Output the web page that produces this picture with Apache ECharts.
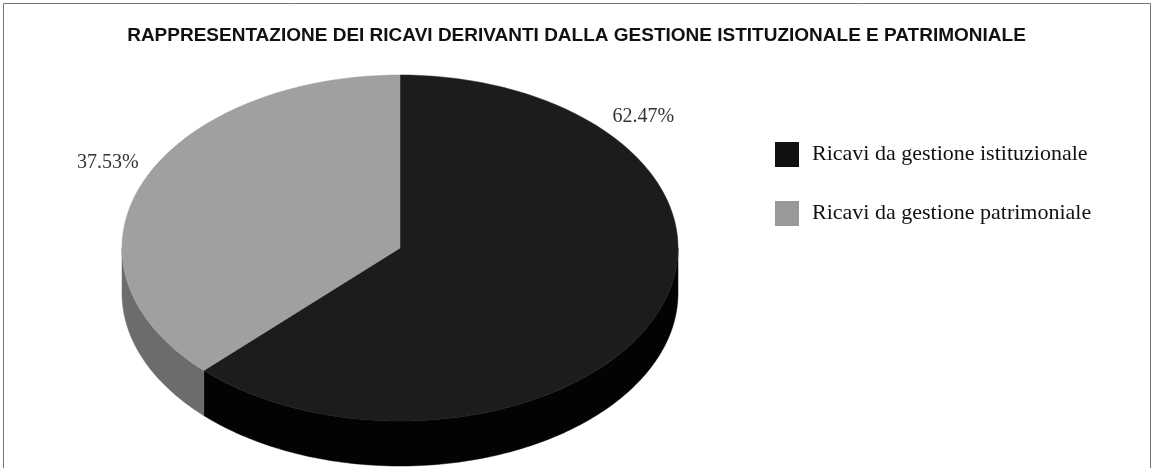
<!DOCTYPE html>
<html>
<head>
<meta charset="utf-8">
<script src="https://cdn.jsdelivr.net/npm/echarts@6/dist/echarts.min.js"></script>
<style>
html, body { margin: 0; padding: 0; background: #fff; }
#chart { width: 1153px; height: 468px; }
</style>
</head>
<body>
<div id="chart"></div>
<script>
const categories = ['Ricavi da gestione istituzionale', 'Ricavi da gestione patrimoniale']
const shares = [62.47, 37.53]
const percentLabels = ['62.47%', '37.53%']

// look of the tilted pie
const topColors = ['#1c1c1c', '#a0a0a0']
const sideColors = ['#030303', '#6c6c6c']
const labelAngles = [49, 295] // degrees, clockwise from 12 o'clock
const cx = 400, cy = 248, rx = 278, ry = 173, depth = 45

const total = shares.reduce((a, b) => a + b, 0)

function pt (deg, dy) {
  const t = deg * Math.PI / 180
  return [cx + rx * Math.sin(t), cy - ry * Math.cos(t) + dy]
}

function arc (from, to, dy) {
  const pts = []
  const steps = Math.max(2, Math.ceil(Math.abs(to - from)))
  for (let k = 0; k <= steps; k++) {
    pts.push(pt(from + (to - from) * k / steps, dy))
  }
  return pts
}

function renderSlice (params, api) {
  const i = params.seriesIndex
  let before = 0
  for (let j = 0; j < i; j++) before += shares[j]
  const start = before / total * 360
  const end = start + api.value(0) / total * 360
  const children = []

  // visible rim: only the front half of the disc (90..270 deg)
  const a = Math.max(start, 90)
  const b = Math.min(end, 270)
  if (b > a) {
    const rim = arc(a, b, 0).concat(arc(b, a, depth))
    children.push({
      type: 'polygon',
      shape: { points: rim },
      style: { fill: sideColors[i], stroke: sideColors[i], lineWidth: 0.5 }
    })
  }

  children.push({
    type: 'polygon',
    shape: { points: [[cx, cy]].concat(arc(start, end, 0)) },
    style: { fill: topColors[i], stroke: topColors[i], lineWidth: 0.5 }
  })

  const t = labelAngles[i] * Math.PI / 180
  children.push({
    type: 'text',
    x: cx + rx * 1.16 * Math.sin(t),
    y: cy - ry * 1.16 * Math.cos(t),
    style: {
      text: percentLabels[i],
      fill: '#333',
      font: '20px "Liberation Serif"',
      align: 'center',
      verticalAlign: 'middle'
    }
  })
  return { type: 'group', children }
}

const chart = echarts.init(document.getElementById('chart'))
chart.setOption({
  animation: false,
  title: {
    text: 'RAPPRESENTAZIONE DEI RICAVI DERIVANTI DALLA GESTIONE ISTITUZIONALE E PATRIMONIALE',
    left: 'center',
    top: 21,
    textStyle: { fontFamily: 'Liberation Sans', fontSize: 19, fontWeight: 'bold', color: '#111' }
  },
  legend: {
    data: categories,
    orient: 'vertical',
    left: 770,
    top: 137,
    icon: 'rect',
    itemWidth: 24,
    itemHeight: 25,
    itemGap: 34,
    selectedMode: false,
    textStyle: { fontFamily: 'Liberation Serif', fontSize: 22, color: '#111', padding: [0, 0, 0, 8] }
  },
  graphic: [{
    type: 'rect',
    shape: { x: 3.5, y: 3.5, width: 1147, height: 470 },
    style: { fill: null, stroke: '#777', lineWidth: 1 },
    silent: true
  }],
  series: categories.map((name, i) => ({
    type: 'custom',
    name: name,
    coordinateSystem: 'none',
    itemStyle: { color: i === 0 ? '#111' : '#999' },
    renderItem: renderSlice,
    data: [[shares[i]]]
  }))
})
</script>
</body>
</html>
